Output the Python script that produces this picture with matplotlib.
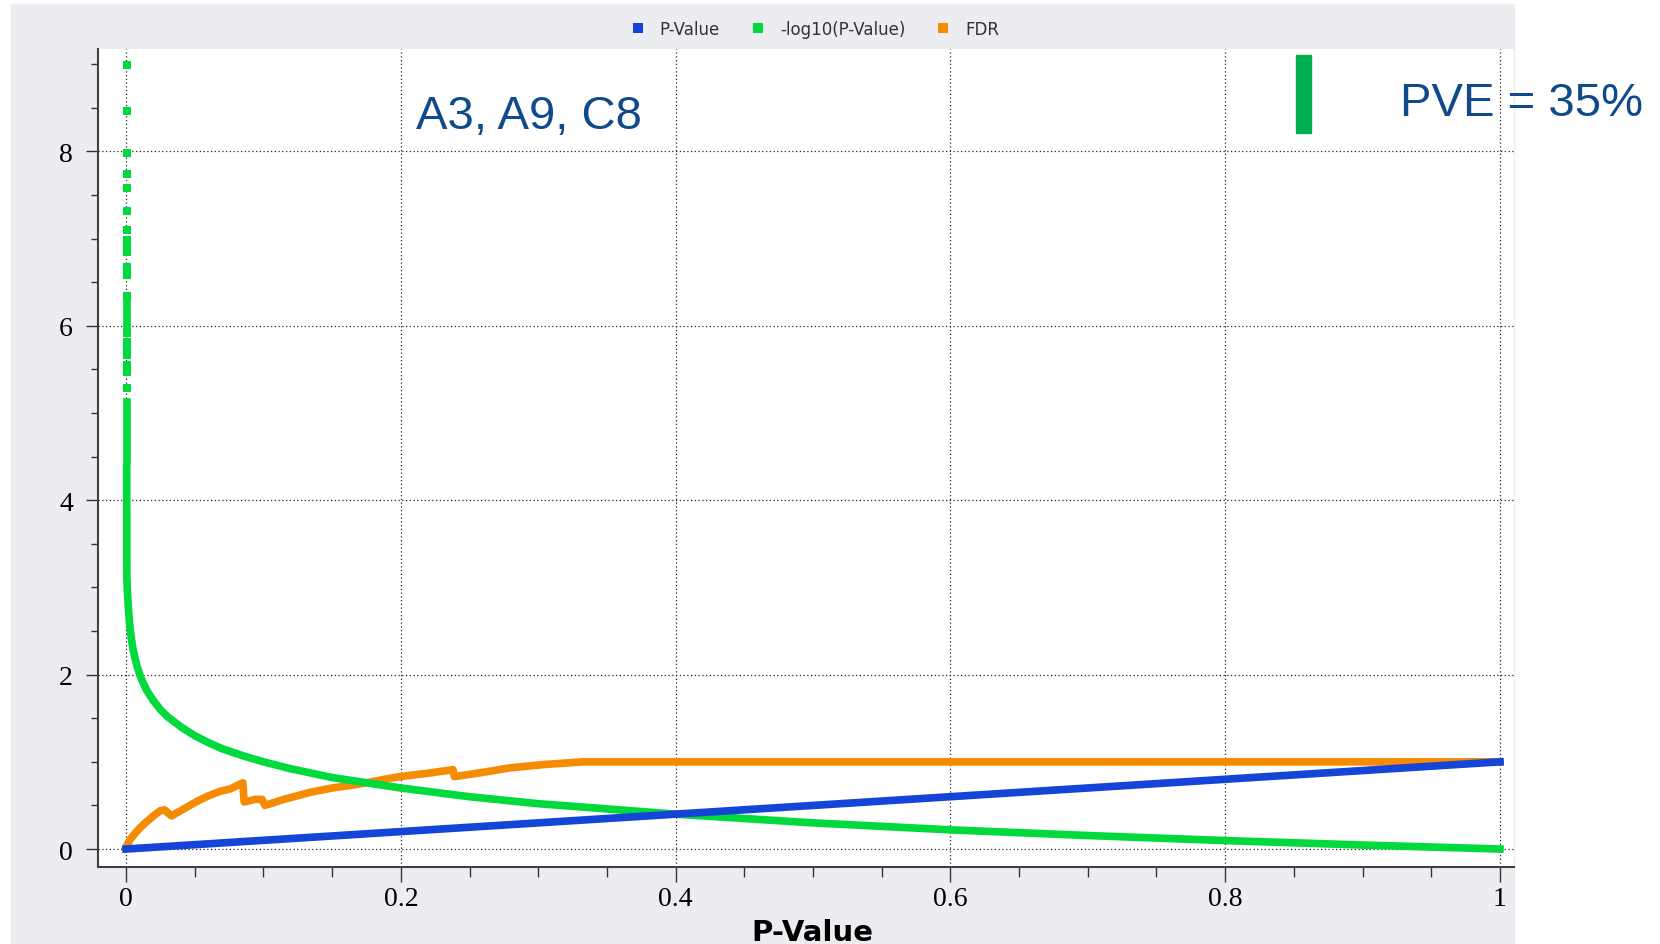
import matplotlib
matplotlib.use('Agg')
import matplotlib.pyplot as plt
from matplotlib.lines import Line2D
from matplotlib.patches import Rectangle
from matplotlib.ticker import MultipleLocator, FixedLocator, FixedFormatter

# ---------------------------------------------------------------------------
# data
# ---------------------------------------------------------------------------
pval_x = [0.0, 1.0]
pval_y = [0.0, 1.0]

# isolated -log10(p) points at p ~ 0
top_pts_x = [0.0004, 0.0004, 0.0004, 0.0004, 0.0004, 0.0004, 0.0004, 0.0004, 0.0004, 0.0004,
             0.0004, 0.0004, 0.0004, 0.0004, 0.0004, 0.0004, 0.0004, 0.0004, 0.0004, 0.0004]
top_pts_y = [8.99, 8.46, 7.98, 7.74, 7.58, 7.32, 7.10, 6.98, 6.94, 6.85,
             6.67, 6.58, 6.34, 5.92, 5.81, 5.73, 5.67, 5.55, 5.47, 5.29]

# short dense runs near p ~ 0
seg1_x = [0.0004, 0.0004]
seg1_y = [6.27, 6.00]
seg2_x = [0.0004, 0.0004]
seg2_y = [5.13, 4.45]

# main -log10(p) curve
neglog_x = [0.0005, 0.0006, 0.001, 0.0015, 0.002, 0.003, 0.004, 0.005, 0.0065, 0.008,
            0.01, 0.012, 0.015, 0.02, 0.025, 0.03, 0.04, 0.05, 0.06, 0.07, 0.085,
            0.1, 0.12, 0.15, 0.175, 0.2, 0.25, 0.3, 0.35, 0.4, 0.5, 0.6, 0.7, 0.8, 0.9, 1.0]
neglog_y = [4.38, 3.10, 2.96, 2.82, 2.70, 2.52, 2.40, 2.30, 2.19, 2.10,
            2.00, 1.92, 1.82, 1.70, 1.60, 1.52, 1.40, 1.30, 1.22, 1.15, 1.07,
            1.00, 0.92, 0.82, 0.76, 0.70, 0.60, 0.52, 0.46, 0.40, 0.30, 0.22, 0.155, 0.097, 0.046, 0.0]

# FDR
fdr_x = [0.0, 0.003, 0.006, 0.010, 0.014, 0.020, 0.025, 0.028, 0.033, 0.042, 0.052, 0.060, 0.068,
         0.076, 0.085, 0.086, 0.094, 0.099, 0.101, 0.115, 0.134, 0.150, 0.168, 0.185, 0.199,
         0.220, 0.238, 0.239, 0.260, 0.279, 0.305, 0.333, 1.0]
fdr_y = [0.02, 0.11, 0.17, 0.24, 0.30, 0.38, 0.44, 0.45, 0.38, 0.46, 0.55, 0.61, 0.66,
         0.69, 0.76, 0.54, 0.57, 0.57, 0.50, 0.57, 0.65, 0.70, 0.74, 0.79, 0.83,
         0.87, 0.91, 0.83, 0.88, 0.93, 0.97, 1.0, 1.0]

x_ticks = [0, 0.2, 0.4, 0.6, 0.8, 1.0]
x_labels = ['0', '0.2', '0.4', '0.6', '0.8', '1']
y_ticks = [0, 2, 4, 6, 8]
y_labels = ['0', '2', '4', '6', '8']

series_names = ['P-Value', '-log10(P-Value)', 'FDR']
series_colors = ['#1444D8', '#00DA3C', '#F58B00']

###############################################################################

W, H = 1660, 945
fig = plt.figure(figsize=(W / 100, H / 100), dpi=100, facecolor='white')

# gray panel behind chart
fig.patches.append(Rectangle((11 / W, 0), (1514 - 11) / W, (945 - 5) / H,
                             transform=fig.transFigure, color='#ECEDF1', zorder=-10))

ax = fig.add_axes([98 / W, 1 - 868 / H, (1514 - 98) / W, (868 - 50) / H])
ax.set_facecolor('white')

LW = 5.5
ax.plot(fdr_x, fdr_y, color=series_colors[2], lw=LW, solid_capstyle='projecting', zorder=3)
ax.plot(neglog_x, neglog_y, color=series_colors[1], lw=LW, solid_capstyle='projecting', zorder=4)
ax.plot(seg1_x, seg1_y, color=series_colors[1], lw=LW, solid_capstyle='projecting', zorder=4)
ax.plot(seg2_x, seg2_y, color=series_colors[1], lw=LW, solid_capstyle='projecting', zorder=4)
ax.plot(top_pts_x, top_pts_y, ls='none', marker='s', ms=6, mew=0,
        color=series_colors[1], zorder=4)
ax.plot(pval_x, pval_y, color=series_colors[0], lw=LW, solid_capstyle='projecting', zorder=5)

ax.set_xlim(-0.0204, 1.0102)
ax.set_ylim(-0.206, 9.174)

ax.xaxis.set_major_locator(FixedLocator(x_ticks))
ax.xaxis.set_major_formatter(FixedFormatter(x_labels))
ax.yaxis.set_major_locator(FixedLocator(y_ticks))
ax.yaxis.set_major_formatter(FixedFormatter(y_labels))
ax.xaxis.set_minor_locator(MultipleLocator(0.05))
ax.yaxis.set_minor_locator(MultipleLocator(0.5))

ax.grid(True, which='major', color='#222222', lw=0.9, ls=(0, (1, 2)))
ax.set_axisbelow(True)

for s in ['top', 'right']:
    ax.spines[s].set_visible(False)
for s in ['left', 'bottom']:
    ax.spines[s].set_color('#404040')
    ax.spines[s].set_linewidth(1.5)

ax.tick_params(axis='x', which='major', length=11, width=1, pad=3, color='#333333')
ax.tick_params(axis='x', which='minor', length=7, width=1, color='#333333')
ax.tick_params(axis='y', which='major', length=9, width=1, pad=9, color='#333333')
ax.tick_params(axis='y', which='minor', length=5, width=1, color='#333333')
for lab in ax.get_xticklabels() + ax.get_yticklabels():
    lab.set_fontfamily('Liberation Serif')
    lab.set_fontsize(20)

# x label
fig.text(812 / W, 1 - 941 / H, 'P-Value', ha='center', va='baseline',
         fontsize=21, fontweight='bold', family='DejaVu Sans')

# legend in top band
handles = [Line2D([], [], ls='none', marker='s', ms=6.5, mew=0, color=c) for c in series_colors]
fig.legend(handles, series_names, loc='center', bbox_to_anchor=(816 / W, 1 - 30 / H),
           ncol=3, frameon=False, fontsize=12, handlelength=0.6, handletextpad=1.0,
           columnspacing=2.0, labelcolor='#333333')

# annotations
fig.text(416 / W, 1 - 129 / H, 'A3, A9, C8', ha='left', va='baseline',
         fontsize=34, color='#104A8A', family='Liberation Sans')
fig.text(1400 / W, 1 - 116 / H, 'PVE = 35%', ha='left', va='baseline',
         fontsize=34, color='#104A8A', family='Liberation Sans')
fig.patches.append(Rectangle((1296 / W, 1 - 134 / H), 15 / W, 78 / H,
                             transform=fig.transFigure, color='#00B050', zorder=10))

fig.savefig('out.png', dpi=100, facecolor='white')
